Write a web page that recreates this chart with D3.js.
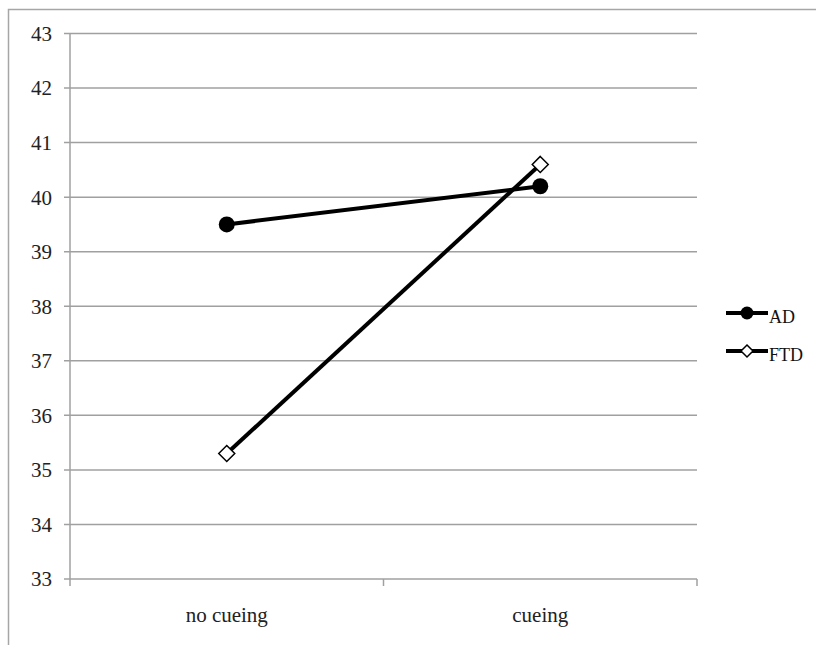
<!DOCTYPE html>
<html><head><meta charset="utf-8">
<script src="https://cdn.jsdelivr.net/npm/d3@7"></script>
<style>body{margin:0;background:#fff}svg{display:block}text{font-family:"Liberation Serif","DejaVu Serif",serif}</style>
</head><body>
<script>
const categories = ["no cueing", "cueing"];
const adValues = [39.5, 40.2];
const ftdValues = [35.3, 40.6];
const yTicks = [33, 34, 35, 36, 37, 38, 39, 40, 41, 42, 43];
const seriesNames = ["AD", "FTD"];

(function () {
const W = 816, H = 645;
const svg = d3.select("body").append("svg").attr("width", W).attr("height", H);

svg.append("path").attr("d", `M8.5,${H} L8.5,9.5 L${W},9.5`).attr("fill", "none").attr("stroke", "#a6a6a6").attr("stroke-width", 1.5);

const pl = 70, pr = 697, pt = 33.5, pb = 579;
const x = d3.scaleBand().domain(categories).range([pl, pr]);
const y = d3.scaleLinear().domain([33, 43]).range([pb, pt]);

const grid = "#a0a0a0";

svg.append("g").selectAll("line").data(yTicks).join("line")
  .attr("x1", pl - 6).attr("x2", pr)
  .attr("y1", d => y(d)).attr("y2", d => y(d))
  .attr("stroke", grid).attr("stroke-width", 1.5);

svg.append("line").attr("x1", pl).attr("x2", pl).attr("y1", pt).attr("y2", pb)
  .attr("stroke", grid).attr("stroke-width", 1.5);

svg.append("g").selectAll("text").data(yTicks).join("text")
  .attr("x", pl - 18).attr("y", d => y(d)).attr("dy", "0.35em")
  .attr("text-anchor", "end").style("font-size", "21px")
  .attr("fill", "#222").text(d => d);

const bounds = [pl, ...categories.slice(1).map(c => x(c)), pr];
svg.append("g").selectAll("line").data(bounds).join("line")
  .attr("x1", d => d).attr("x2", d => d).attr("y1", pb).attr("y2", pb + 7)
  .attr("stroke", grid).attr("stroke-width", 1.5);

svg.append("g").selectAll("text").data(categories).join("text")
  .attr("x", d => x(d) + x.bandwidth() / 2).attr("y", pb + 43)
  .attr("text-anchor", "middle").style("font-size", "21px")
  .attr("fill", "#222").text(d => d);

const cx = c => x(c) + x.bandwidth() / 2;
const line = d3.line().x((d, i) => cx(categories[i])).y(d => y(d));

svg.append("path").datum(adValues).attr("d", line).attr("fill", "none").attr("stroke", "#000").attr("stroke-width", 4);
svg.append("path").datum(ftdValues).attr("d", line).attr("fill", "none").attr("stroke", "#000").attr("stroke-width", 4);

svg.append("g").selectAll("circle").data(adValues).join("circle")
  .attr("cx", (d, i) => cx(categories[i])).attr("cy", d => y(d)).attr("r", 8).attr("fill", "#000");

const dpath = s => `M0,${-s} L${s},0 L0,${s} L${-s},0 Z`;
svg.append("g").selectAll("path").data(ftdValues).join("path")
  .attr("transform", (d, i) => `translate(${cx(categories[i])},${y(d)})`)
  .attr("d", dpath(8)).attr("fill", "#fff").attr("stroke", "#000").attr("stroke-width", 1.5);

const lg = svg.append("g");
const lx0 = 726, lx1 = 768, ly = [313, 351];
seriesNames.forEach((n, i) => {
  lg.append("line").attr("x1", lx0).attr("x2", lx1).attr("y1", ly[i]).attr("y2", ly[i]).attr("stroke", "#000").attr("stroke-width", 4);
  const mx = (lx0 + lx1) / 2;
  if (i === 0) lg.append("circle").attr("cx", mx).attr("cy", ly[i]).attr("r", 6.5).attr("fill", "#000");
  else lg.append("path").attr("transform", `translate(${mx},${ly[i]})`).attr("d", dpath(6)).attr("fill", "#fff").attr("stroke", "#000").attr("stroke-width", 1.5);
  lg.append("text").attr("x", lx1 + 1).attr("y", ly[i] + 4).attr("dy", "0.35em").style("font-size", "18px").attr("fill", "#111").text(n);
});
})();
</script>
</body></html>
